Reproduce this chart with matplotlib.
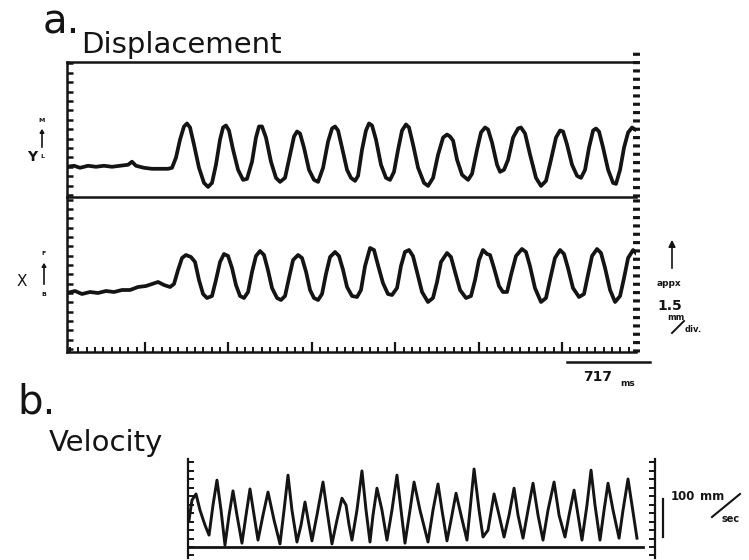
import numpy as np
import matplotlib
matplotlib.use('Agg')
import matplotlib.pyplot as plt
from matplotlib.ticker import MultipleLocator, FixedLocator

# displacement traces (time in ms, position in mm re. resting level)
y_t = [0, 60, 112, 181, 249, 318, 387, 456, 525, 559, 593, 662, 731, 800, 869, 903,
       937, 972, 1006, 1032, 1058, 1092, 1135, 1178, 1213, 1247, 1281, 1316, 1342, 1367,
       1393, 1428, 1471, 1514, 1548, 1591, 1625, 1651, 1677, 1711, 1754, 1797, 1832, 1875,
       1918, 1952, 1978, 2004, 2038, 2081, 2124, 2159, 2202, 2245, 2279, 2305, 2331, 2365,
       2408, 2442, 2477, 2503, 2537, 2571, 2597, 2623, 2657, 2700, 2743, 2778, 2812, 2847,
       2881, 2915, 2941, 2976, 3019, 3070, 3105, 3148, 3191, 3234, 3268, 3294, 3320, 3354,
       3397, 3449, 3483, 3526, 3560, 3595, 3621, 3655, 3698, 3724, 3758, 3793, 3836, 3879,
       3904, 3939, 3982, 4033, 4076, 4119, 4162, 4205, 4240, 4266, 4300, 4343, 4386, 4420,
       4455, 4489, 4524, 4549, 4575, 4610, 4653, 4696, 4721, 4756, 4790, 4825, 4859, 4885]
y_mm = [0, 0.15, -0.15, 0.15, 0, 0.15, 0, 0.15, 0.3, 0.75, 0.15, -0.15, -0.3, -0.3, -0.3, -0.15,
        1.35, 4.05, 6.0, 6.45, 5.85, 3.3, -0.15, -2.4, -3.0, -2.4, 0.3, 4.05, 5.85, 6.15,
        5.4, 2.55, -0.45, -1.95, -1.8, 0.75, 4.35, 6.0, 6.0, 4.35, 0.75, -1.65, -2.25, -1.65,
        1.8, 4.5, 5.25, 4.95, 2.85, -0.45, -1.95, -2.25, -0.15, 3.75, 5.7, 6.0, 5.4, 2.85,
        -0.45, -1.65, -2.1, -1.35, 2.55, 5.4, 6.45, 6.15, 4.05, 0.3, -1.65, -1.95, -0.75, 2.55,
        5.4, 6.3, 5.85, 3.3, -0.15, -2.4, -2.85, -1.65, 1.8, 4.35, 4.8, 4.5, 3.9, 1.05,
        -1.2, -1.95, -1.05, 2.55, 5.1, 5.85, 5.55, 3.6, 0.3, -0.75, -0.45, 1.05, 4.35, 5.7,
        5.85, 4.95, 1.8, -1.65, -2.85, -2.1, 1.05, 4.35, 5.4, 5.25, 3.3, 0.3, -1.35, -1.65,
        -0.45, 2.85, 5.4, 5.7, 5.25, 2.85, -0.45, -2.4, -2.55, -0.45, 2.85, 5.1, 5.85, 5.55]

x_t = [0, 69, 129, 198, 267, 335, 404, 473, 542, 611, 679, 731, 783, 834, 886, 920,
       955, 989, 1023, 1066, 1101, 1135, 1170, 1204, 1247, 1281, 1316, 1350, 1385, 1419,
       1453, 1488, 1522, 1557, 1591, 1625, 1660, 1694, 1728, 1763, 1806, 1840, 1875, 1909,
       1944, 1987, 2021, 2056, 2090, 2124, 2159, 2193, 2227, 2262, 2305, 2339, 2374, 2408,
       2451, 2494, 2528, 2563, 2606, 2640, 2674, 2717, 2760, 2795, 2838, 2872, 2906, 2941,
       2975, 3010, 3053, 3104, 3147, 3182, 3216, 3268, 3302, 3337, 3380, 3431, 3474, 3509,
       3543, 3577, 3612, 3638, 3672, 3715, 3749, 3784, 3818, 3861, 3912, 3947, 3981, 4024,
       4076, 4119, 4153, 4196, 4240, 4274, 4308, 4351, 4403, 4446, 4480, 4515, 4558, 4592,
       4627, 4670, 4713, 4756, 4790, 4825, 4868, 4893]
x_mm = [0, 0.3, -0.15, 0.15, 0, 0.3, 0.15, 0.45, 0.45, 0.9, 1.05, 1.35, 1.65, 1.2, 0.9, 1.35,
        3.45, 5.25, 5.7, 5.4, 4.65, 1.95, -0.15, -0.75, -0.45, 1.95, 4.65, 5.85, 5.55, 3.75,
        1.2, -0.45, -0.75, 0.15, 3.15, 5.55, 6.3, 5.7, 3.45, 0.75, -0.75, -1.05, -0.45, 2.25,
        4.95, 5.7, 5.25, 3.15, 0.45, -0.75, -1.05, -0.15, 2.85, 5.4, 6.15, 5.55, 3.45, 0.9,
        -0.45, -0.6, 0.45, 4.05, 6.75, 6.45, 4.2, 1.5, -0.15, -0.3, 0.75, 4.05, 6.15, 6.45,
        5.55, 3.15, 0.15, -1.35, -0.75, 1.65, 4.65, 6.0, 5.4, 3.15, 0.45, -0.75, -0.45, 1.95,
        4.95, 6.45, 5.85, 5.7, 3.75, 1.05, 0.15, 0.15, 2.7, 5.55, 6.6, 6.15, 4.05, 0.75,
        -1.35, -0.75, 1.95, 5.25, 6.45, 5.85, 3.75, 0.75, -0.6, -0.15, 2.7, 5.55, 6.6, 6.0,
        3.75, 0.45, -1.35, -0.45, 2.25, 5.25, 6.45, 6.0]

# tangential velocity (time in ms, speed in mm/sec)
v_t = [9, 34, 69, 103, 146, 181, 215, 249, 284, 318, 353, 387, 421, 464, 499, 533,
       568, 602, 645, 688, 740, 791, 826, 860, 894, 937, 972, 1006, 1041, 1066, 1109, 1161,
       1195, 1238, 1281, 1324, 1359, 1385, 1410, 1453, 1496, 1531, 1565, 1591, 1625, 1668,
       1711, 1754, 1797, 1832, 1866, 1909, 1944, 1995, 2064, 2107, 2150, 2184, 2227, 2262,
       2305, 2348, 2399, 2425, 2460, 2503, 2537, 2580, 2632, 2675, 2718, 2761, 2804, 2838,
       2881, 2924, 2967, 3010, 3053, 3096, 3148, 3191, 3242, 3277, 3320, 3354, 3388, 3431,
       3466, 3500, 3543, 3578, 3612, 3655, 3707, 3741, 3784, 3818, 3861]
v_speed = [70, 122, 138, 96, 57, 31, 109, 174, 96, 5, 83, 146, 83, 10, 83, 151,
           83, 18, 83, 143, 70, 8, 96, 187, 96, 13, 57, 117, 57, 16, 83, 169,
           96, 8, 70, 127, 109, 57, 18, 96, 198, 96, 13, 83, 153, 96,
           18, 96, 187, 96, 10, 96, 169, 96, 13, 96, 164, 96, 16, 70,
           140, 83, 18, 96, 203, 96, 26, 44, 138, 83, 26, 83, 153, 83,
           23, 96, 166, 83, 18, 96, 169, 83, 26, 83, 148, 83, 18, 109,
           200, 109, 18, 96, 166, 96, 23, 96, 177, 109, 23]

major_ms = 717          # one time division
first_major = 671
W, H = 749, 560
ink = '#141414'

fig = plt.figure(figsize=(W / 100, H / 100), dpi=100)


def box(l, t, r, b):
    return [l / W, 1 - b / H, (r - l) / W, (b - t) / H]


def ftext(x, y, s, **kw):
    fig.text(x / W, 1 - y / H, s, color=ink, **kw)


def fline(xs, ys, **kw):
    fig.add_artist(matplotlib.lines.Line2D([x / W for x in xs], [1 - y / H for y in ys],
                                           color=ink, **kw))


def farrow(x, y0, y1, hl, hw):
    fig.add_artist(matplotlib.patches.FancyArrowPatch(
        (x / W, 1 - y0 / H), (x / W, 1 - y1 / H), transform=fig.transFigure,
        arrowstyle='-|>,head_length=%g,head_width=%g' % (hl, hw), color=ink, lw=1.2))


axY = fig.add_axes(box(67, 62, 636, 197))
axX = fig.add_axes(box(67, 197, 636, 352))
axV = fig.add_axes(box(188, 459, 655, 558))

axY.plot(y_t, y_mm, color=ink, lw=2.7, solid_joinstyle='round')
axX.plot(x_t, x_mm, color=ink, lw=2.7, solid_joinstyle='round')
axV.plot(v_t, v_speed, color=ink, lw=2.1, solid_joinstyle='round')

axY.set_xlim(0, 4893)
axX.set_xlim(0, 4893)
axY.set_ylim(-4.5, 15.6)
axX.set_ylim(-8.85, 14.4)

for ax, top in ((axY, 1.075), (axX, 1.0)):
    for s in ('top', 'bottom', 'left'):
        ax.spines[s].set_linewidth(1.8)
        ax.spines[s].set_color(ink)
    ax.spines['right'].set_visible(False)
    # dotted right-hand edge of the recorder frame
    ax.axvline(4893, ymax=top, color=ink, lw=5, dashes=(0.45, 0.75), clip_on=False)
    ax.yaxis.set_major_locator(MultipleLocator(1.4))
    ax.tick_params(axis='y', left=True, right=False, direction='in', length=4.5,
                   width=1.8, color=ink, labelleft=False)
    ax.set_facecolor('none')

axX.spines['top'].set_visible(False)
axY.tick_params(axis='x', bottom=False, labelbottom=False)

majors = np.arange(first_major, 4893, major_ms)
minors = np.arange(first_major - 9 * major_ms / 10, 4893, major_ms / 10)
axX.xaxis.set_major_locator(FixedLocator(majors))
axX.xaxis.set_minor_locator(FixedLocator(minors))
axX.tick_params(axis='x', which='major', direction='in', length=7.5, width=1.6,
                color=ink, labelbottom=False)
axX.tick_params(axis='x', which='minor', direction='in', length=3.8, width=1.4, color=ink)

axV.set_xlim(0, 4016)
axV.set_ylim(-28.6, 229)
axV.axhline(0, xmax=0.974, color=ink, lw=2)
for s in ('top', 'bottom'):
    axV.spines[s].set_visible(False)
for s in ('left', 'right'):
    axV.spines[s].set_linewidth(1.6)
    axV.spines[s].set_color(ink)
axV.yaxis.set_major_locator(MultipleLocator(22))
axV.tick_params(axis='y', left=True, right=True, direction='in', length=4, width=1.4,
                color=ink, labelleft=False)
axV.tick_params(axis='x', bottom=False, labelbottom=False)

# 100 mm/sec calibration bar
axV.plot([4085, 4085], [25, 125], color=ink, lw=1.6, clip_on=False)

# titles
ftext(43, 33, 'a.', fontsize=29, va='baseline')
ftext(81, 53, 'Displacement', fontsize=21, va='baseline')
ftext(17, 414, 'b.', fontsize=29, va='baseline')
ftext(49, 451, 'Velocity', fontsize=21, va='baseline')

# channel labels
ftext(32, 157, 'Y', fontsize=10, fontweight='bold', ha='center', va='center')
ftext(42, 120, 'M', fontsize=4.5, fontweight='bold', ha='center', va='center')
ftext(42, 157, 'L', fontsize=4.5, fontweight='bold', ha='center', va='center')
farrow(42, 150, 126, 2, 1.2)
ftext(22, 281, 'X', fontsize=11, ha='center', va='center')
ftext(44, 254, 'F', fontsize=4.5, fontweight='bold', ha='center', va='center')
ftext(44, 294, 'B', fontsize=4.5, fontweight='bold', ha='center', va='center')
farrow(44, 287, 260, 2, 1.2)

# amplitude calibration
farrow(672, 271, 237, 4, 2)
ftext(657, 284, 'appx', fontsize=6.5, fontweight='bold', va='center')
ftext(657, 306, '1.5', fontsize=10, fontweight='bold', va='center')
ftext(667, 317, 'mm', fontsize=6, fontweight='bold', va='center')
fline([672, 684], [333, 321], lw=1.4)
ftext(685, 330, 'div.', fontsize=6, fontweight='bold', va='center')

# time calibration 717 ms
fline([567, 650], [362, 362], lw=1.8)
ftext(583, 377, '717', fontsize=10, fontweight='bold', va='center')
ftext(620, 383, 'ms', fontsize=6.5, fontweight='bold', va='center')

# velocity calibration label
ftext(671, 497, '100', fontsize=8.5, fontweight='bold', va='center')
ftext(700, 497, 'mm', fontsize=8.5, fontweight='bold', va='center')
fline([712, 740], [517, 494], lw=1.5)
ftext(722, 519, 'sec', fontsize=7, fontweight='bold', va='center')

fig.savefig('out.png', dpi=100)
